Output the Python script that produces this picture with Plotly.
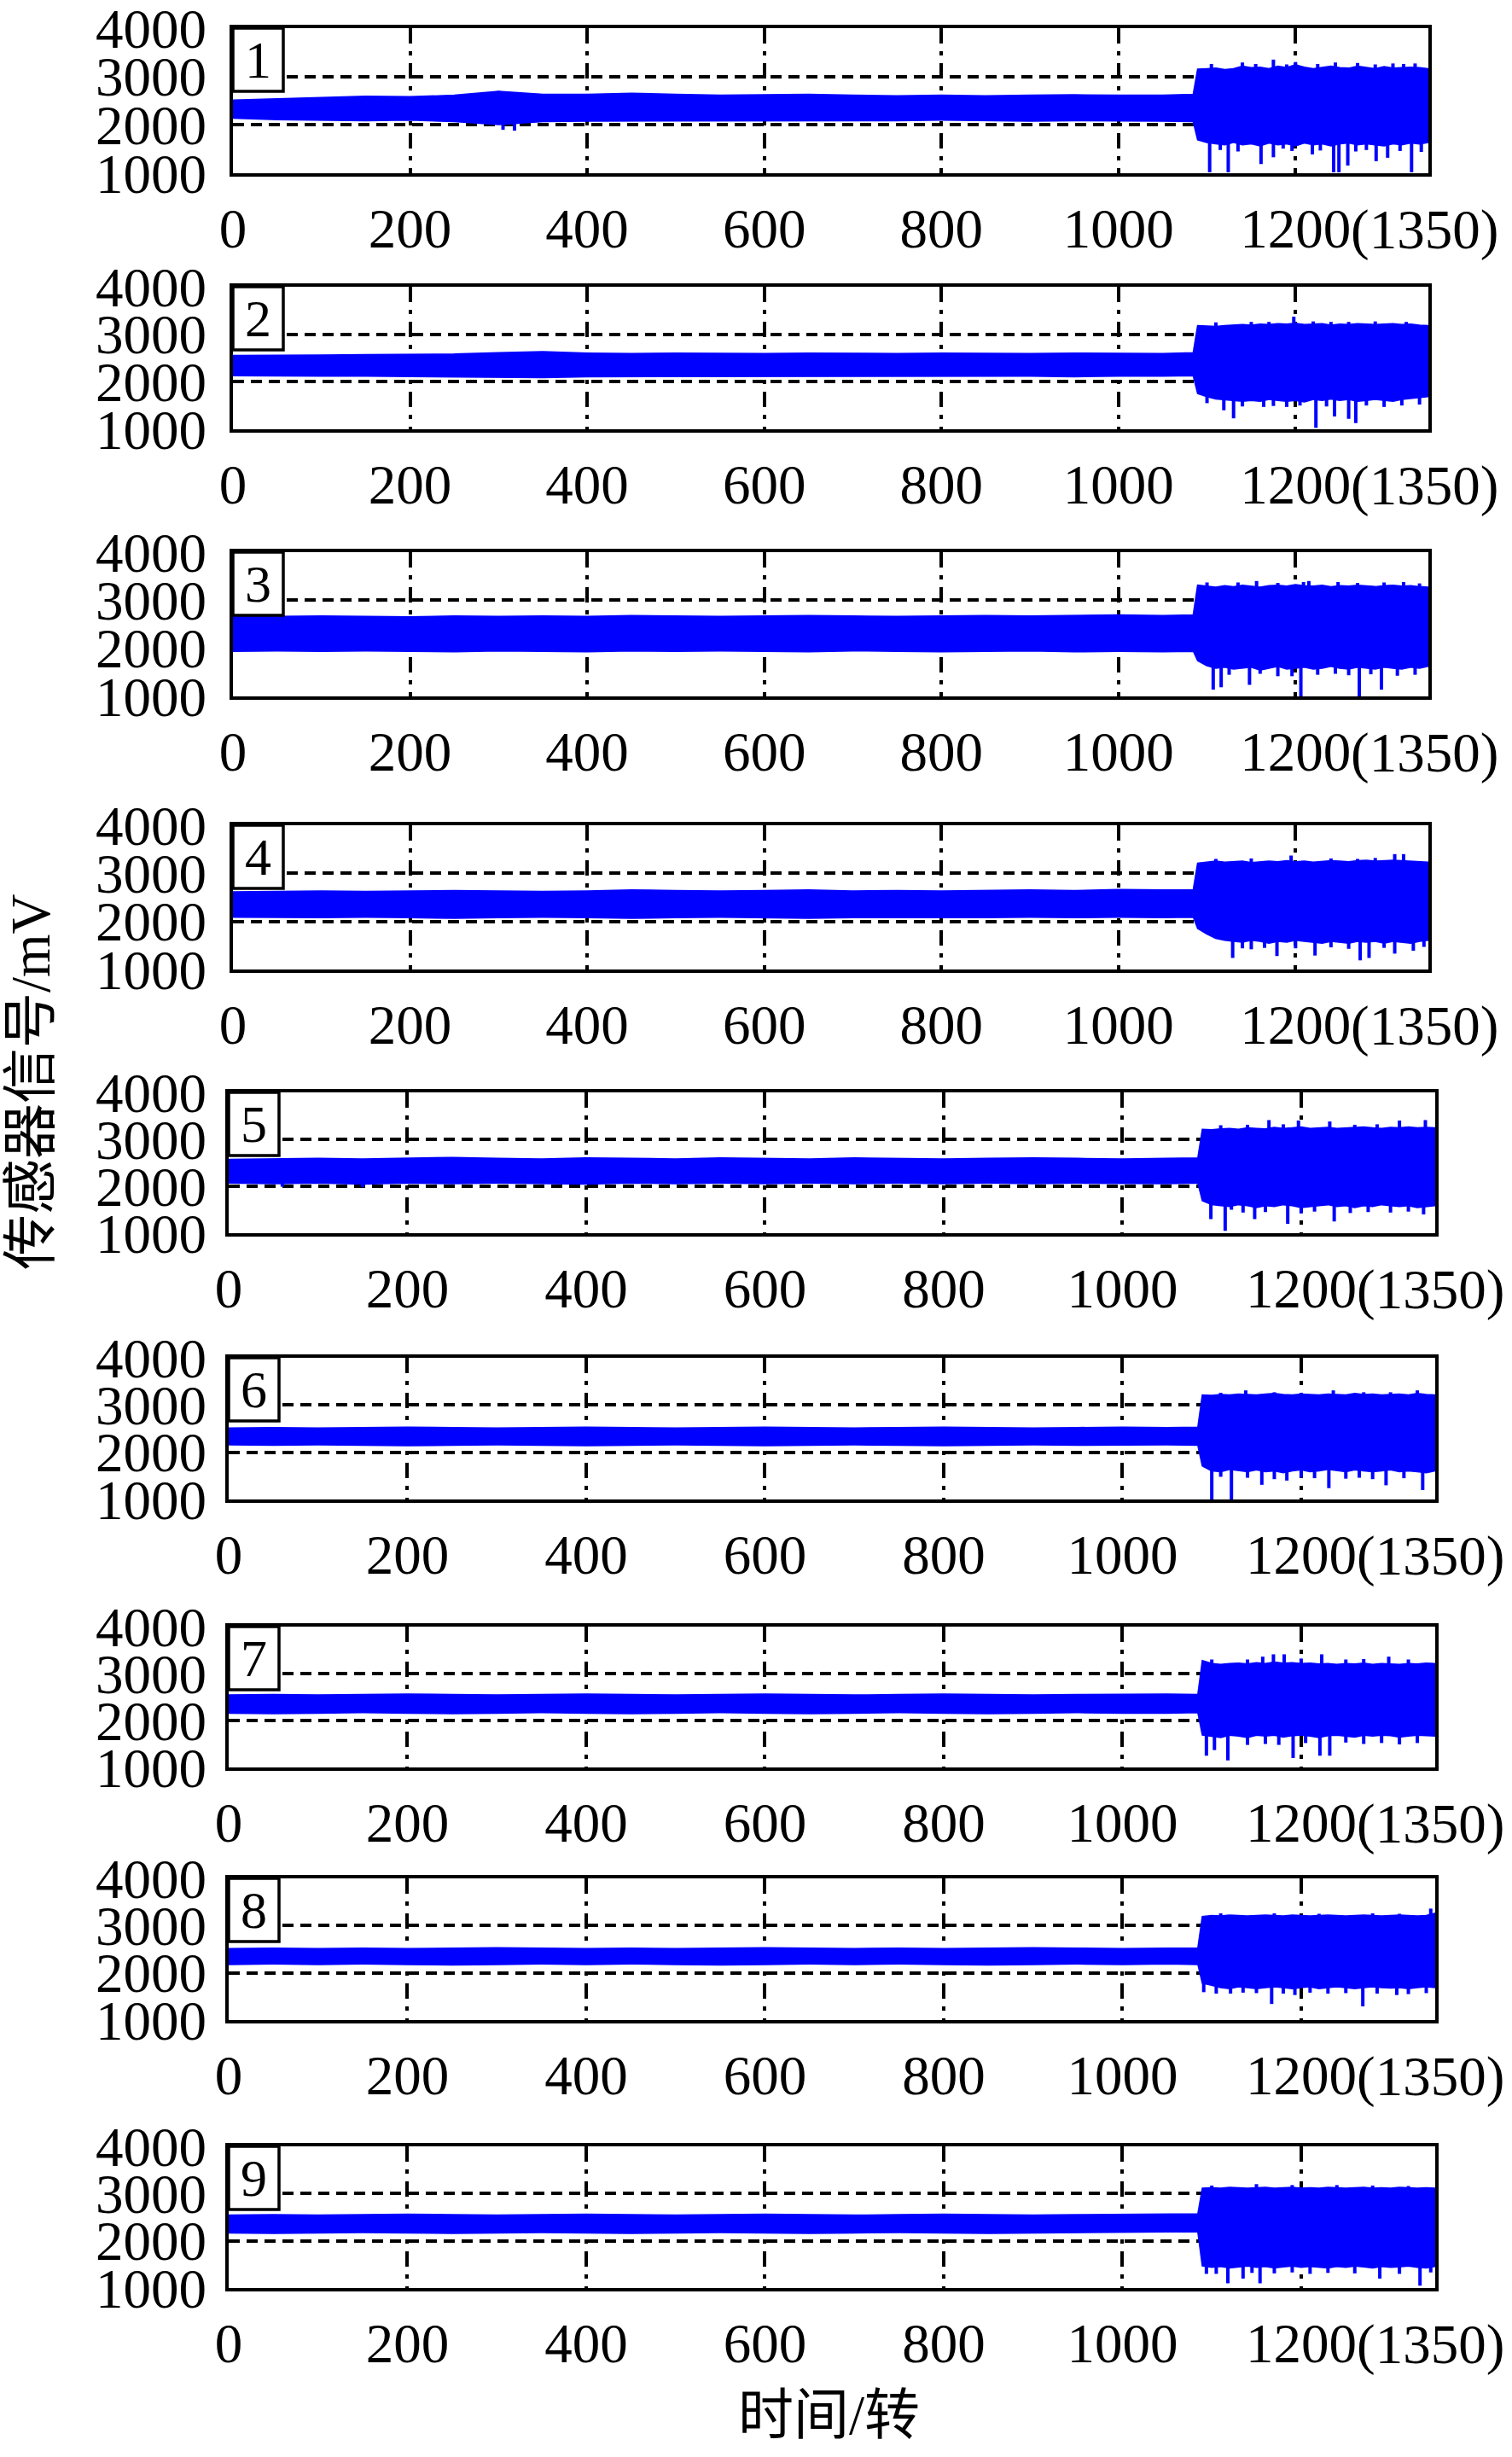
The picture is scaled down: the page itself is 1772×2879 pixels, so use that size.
import plotly.graph_objects as go
from plotly.subplots import make_subplots

# ---------------- data ----------------
rev_healthy = [0, 50, 100, 150, 200, 250, 300, 350, 400, 450, 500, 550, 600, 650,
               700, 750, 800, 850, 900, 950, 1000, 1050, 1085]
rev_fault = [1090, 1100, 1110, 1120, 1130, 1140, 1150, 1160, 1170, 1180, 1190, 1200,
             1210, 1220, 1230, 1240, 1250, 1260, 1270, 1280, 1290, 1300, 1310, 1320,
             1330, 1340, 1350]

x_tick_values = [0, 200, 400, 600, 800, 1000, 1200]
x_tick_labels = ["0", "200", "400", "600", "800", "1000", "1200"]
x_last_suffix = "(1350)"
y_tick_values = [1000, 2000, 3000, 4000]
y_tick_labels = ["1000", "2000", "3000", "4000"]
panel_labels = ["1", "2", "3", "4", "5", "6", "7", "8", "9"]

# healthy-band envelope (upper / lower), mV
hu1 = [2500,2530,2560,2580,2570,2600,2680,2620,2620,2640,2620,2600,2610,2620,2600,2590,2600,2590,2600,2610,2600,2600,2620]
hl1 = [2150,2120,2110,2100,2110,2080,2020,2080,2090,2100,2090,2100,2100,2090,2100,2100,2110,2100,2090,2100,2100,2090,2080]
hu2 = [2540,2540,2550,2560,2560,2570,2600,2620,2590,2580,2590,2580,2580,2590,2580,2580,2590,2580,2580,2590,2590,2580,2600]
hl2 = [2140,2140,2130,2130,2120,2120,2110,2100,2120,2130,2130,2130,2130,2120,2130,2130,2120,2130,2130,2120,2130,2130,2140]
hu3 = [2640,2650,2660,2650,2640,2660,2650,2660,2650,2670,2660,2650,2660,2670,2660,2650,2660,2670,2660,2670,2680,2670,2680]
hl3 = [1950,1960,1950,1960,1950,1940,1960,1950,1940,1960,1950,1960,1950,1940,1960,1950,1940,1950,1960,1940,1950,1940,1950]
hu4 = [2600,2610,2620,2610,2620,2630,2620,2610,2620,2640,2630,2620,2630,2640,2620,2630,2620,2630,2640,2630,2650,2640,2640]
hl4 = [2100,2090,2090,2100,2090,2080,2090,2100,2090,2080,2090,2100,2090,2080,2090,2100,2090,2090,2100,2090,2100,2090,2100]
hu5 = [2560,2570,2580,2570,2580,2600,2580,2570,2590,2580,2570,2590,2580,2570,2590,2580,2570,2580,2590,2580,2570,2580,2590]
hl5 = [2080,2070,2080,2060,2080,2070,2080,2070,2060,2080,2070,2080,2070,2080,2070,2080,2070,2080,2070,2080,2080,2070,2080]
hu6 = [2500,2510,2500,2510,2520,2510,2500,2510,2520,2510,2500,2510,2520,2510,2500,2510,2520,2510,2500,2510,2520,2510,2520]
hl6 = [2170,2160,2170,2160,2150,2160,2170,2160,2150,2160,2170,2160,2150,2160,2170,2160,2150,2160,2170,2160,2160,2170,2160]
hu7 = [2530,2540,2530,2540,2550,2540,2530,2540,2550,2540,2530,2540,2550,2540,2530,2540,2550,2540,2530,2540,2550,2550,2540]
hl7 = [2170,2160,2170,2180,2170,2160,2170,2180,2170,2160,2170,2180,2170,2160,2170,2180,2170,2160,2170,2180,2170,2170,2180]
hu8 = [2500,2510,2500,2510,2500,2510,2520,2510,2500,2510,2500,2510,2520,2510,2500,2510,2500,2510,2520,2510,2500,2510,2510]
hl8 = [2190,2200,2190,2200,2190,2180,2190,2200,2190,2200,2190,2180,2190,2200,2190,2200,2190,2180,2190,2200,2190,2200,2190]
hu9 = [2530,2540,2530,2540,2550,2540,2530,2540,2550,2540,2530,2540,2550,2540,2530,2540,2550,2540,2530,2540,2550,2560,2560]
hl9 = [2180,2170,2180,2190,2180,2170,2180,2190,2180,2170,2180,2190,2180,2170,2180,2190,2180,2170,2180,2190,2190,2200,2200]

# fault-band envelope (upper / lower), mV
fu1 = [3140,3150,3160,3130,3150,3200,3170,3180,3150,3200,3170,3230,3180,3150,3180,3200,3170,3160,3200,3180,3150,3190,3160,3170,3180,3170,3150]
fl1 = [1700,1650,1620,1600,1650,1600,1620,1580,1640,1600,1620,1580,1640,1600,1620,1580,1620,1640,1600,1620,1600,1580,1620,1600,1640,1620,1650]
fu2 = [3170,3160,3150,3170,3180,3190,3180,3200,3190,3210,3200,3220,3190,3200,3210,3180,3200,3190,3210,3200,3190,3200,3210,3190,3200,3180,3170]
fl2 = [1760,1700,1650,1640,1620,1600,1620,1600,1640,1620,1600,1620,1590,1640,1620,1650,1620,1640,1600,1620,1640,1620,1600,1640,1650,1680,1700]
fu3 = [3300,3280,3260,3290,3270,3300,3280,3260,3290,3300,3280,3310,3290,3280,3300,3270,3290,3280,3300,3290,3270,3290,3300,3280,3290,3270,3260]
fl3 = [1750,1650,1600,1620,1580,1600,1620,1560,1600,1640,1580,1600,1620,1580,1600,1640,1600,1580,1620,1600,1580,1620,1600,1580,1620,1600,1640]
fu4 = [3200,3220,3240,3220,3230,3240,3210,3220,3240,3230,3250,3230,3240,3220,3230,3250,3240,3230,3250,3260,3240,3250,3260,3250,3240,3230,3220]
fl4 = [1860,1750,1660,1620,1600,1580,1620,1600,1560,1600,1580,1620,1600,1580,1560,1600,1580,1560,1600,1580,1600,1560,1600,1580,1560,1600,1620]
fu5 = [3200,3190,3210,3220,3200,3230,3220,3210,3240,3220,3230,3250,3220,3230,3240,3220,3230,3240,3250,3230,3220,3240,3230,3250,3230,3240,3230]
fl5 = [1700,1620,1600,1580,1620,1600,1560,1600,1580,1620,1600,1560,1580,1600,1620,1580,1600,1560,1600,1580,1620,1600,1580,1600,1560,1580,1600]
fu6 = [3200,3190,3210,3200,3220,3210,3200,3220,3230,3210,3200,3220,3210,3200,3220,3210,3200,3230,3210,3220,3200,3210,3220,3200,3230,3210,3200]
fl6 = [1720,1620,1600,1650,1620,1600,1640,1600,1620,1580,1620,1640,1600,1620,1650,1620,1600,1640,1620,1600,1620,1640,1600,1620,1600,1580,1620]
fu7 = [3260,3200,3180,3200,3210,3190,3220,3200,3230,3210,3220,3200,3210,3190,3200,3180,3200,3190,3210,3180,3200,3190,3180,3200,3190,3210,3200]
fl7 = [1700,1680,1650,1700,1680,1650,1700,1680,1700,1660,1690,1700,1680,1650,1690,1700,1680,1660,1700,1680,1700,1690,1660,1680,1700,1690,1680]
fu8 = [3180,3200,3190,3210,3200,3190,3200,3210,3200,3190,3210,3200,3190,3200,3210,3200,3190,3200,3210,3200,3190,3200,3210,3200,3190,3200,3250]
fl8 = [1790,1750,1700,1680,1720,1700,1680,1700,1720,1700,1680,1700,1720,1680,1700,1720,1700,1680,1700,1720,1700,1690,1700,1680,1700,1720,1700]
fu9 = [3100,3110,3100,3120,3110,3100,3110,3120,3100,3110,3120,3100,3110,3100,3120,3110,3100,3110,3120,3100,3110,3100,3120,3110,3100,3110,3100]
fl9 = [1480,1450,1470,1440,1460,1480,1450,1470,1440,1460,1480,1450,1470,1460,1440,1470,1450,1480,1460,1440,1470,1450,1460,1480,1450,1440,1470]

# isolated downward spikes (revolution, minimum mV)
sx1 = [305, 318, 1103, 1115, 1124, 1135, 1161, 1175, 1186, 1196, 1219, 1228, 1243, 1249, 1259, 1268, 1280, 1291, 1304, 1318, 1331, 1342]
sy1 = [1900, 1880, 1020, 1480, 1020, 1450, 1190, 1330, 1510, 1460, 1390, 1470, 1020, 1020, 1160, 1450, 1480, 1250, 1320, 1460, 1020, 1440]
sx2 = [1100, 1119, 1130, 1140, 1164, 1175, 1190, 1205, 1223, 1235, 1244, 1260, 1268, 1280, 1300, 1320, 1340]
sy2 = [1550, 1400, 1230, 1480, 1470, 1490, 1470, 1500, 1030, 1480, 1270, 1220, 1130, 1500, 1470, 1500, 1520]
sx3 = [1107, 1116, 1125, 1148, 1160, 1180, 1196, 1206, 1225, 1245, 1260, 1272, 1285, 1297, 1315, 1335]
sy3 = [1140, 1190, 1450, 1240, 1470, 1420, 1420, 1000, 1450, 1470, 1440, 1000, 1460, 1140, 1430, 1450]
sx4 = [1129, 1140, 1150, 1165, 1179, 1200, 1222, 1240, 1260, 1273, 1283, 1300, 1312, 1333, 1345]
sy4 = [1240, 1440, 1420, 1450, 1280, 1440, 1290, 1460, 1430, 1190, 1240, 1450, 1330, 1390, 1470]
sx5 = [60, 150, 1099, 1115, 1122, 1135, 1148, 1160, 1185, 1200, 1215, 1237, 1255, 1275, 1300, 1320, 1337]
sy5 = [1990, 1980, 1300, 1050, 1500, 1440, 1300, 1450, 1200, 1420, 1460, 1250, 1430, 1450, 1440, 1460, 1400]
sx6 = [1100, 1110, 1122, 1140, 1156, 1170, 1184, 1200, 1215, 1231, 1250, 1265, 1280, 1295, 1315, 1336]
sy6 = [1000, 1480, 1000, 1460, 1310, 1430, 1400, 1460, 1450, 1240, 1440, 1460, 1430, 1300, 1450, 1200]
sx7 = [1094, 1103, 1118, 1140, 1160, 1175, 1191, 1205, 1221, 1232, 1250, 1270, 1290, 1310, 1330]
sy7 = [1250, 1370, 1150, 1480, 1500, 1480, 1200, 1520, 1250, 1250, 1530, 1500, 1520, 1490, 1520]
sx8 = [1091, 1105, 1121, 1135, 1150, 1167, 1180, 1193, 1210, 1230, 1250, 1269, 1285, 1307, 1320, 1340]
sy8 = [1590, 1560, 1560, 1580, 1570, 1340, 1560, 1530, 1580, 1560, 1570, 1290, 1560, 1530, 1550, 1570]
sx9 = [1094, 1105, 1118, 1135, 1145, 1154, 1170, 1190, 1210, 1230, 1260, 1288, 1310, 1333, 1345]
sy9 = [1300, 1300, 1100, 1200, 1320, 1100, 1310, 1330, 1300, 1320, 1310, 1200, 1300, 1050, 1330]

# isolated upward peaks (revolution, maximum mV)
px1 = [300, 1105, 1140, 1155, 1175, 1190, 1200, 1225, 1245, 1270, 1290, 1310, 1322, 1335]
py1 = [2700, 3260, 3290, 3260, 3350, 3250, 3300, 3260, 3290, 3280, 3250, 3270, 3260, 3270]
px2 = [1110, 1150, 1170, 1198, 1220, 1240, 1260, 1290, 1325]
py2 = [3250, 3260, 3260, 3370, 3270, 3260, 3260, 3270, 3260]
px3 = [1100, 1135, 1156, 1180, 1209, 1215, 1248, 1270, 1300, 1322, 1340]
py3 = [3370, 3370, 3400, 3360, 3380, 3400, 3380, 3360, 3370, 3380, 3350]
px4 = [1110, 1150, 1195, 1240, 1270, 1290, 1312, 1322]
py4 = [3300, 3310, 3370, 3310, 3300, 3320, 3400, 3400]
px5 = [1110, 1140, 1164, 1180, 1197, 1232, 1260, 1285, 1310, 1339]
py5 = [3300, 3310, 3410, 3320, 3400, 3380, 3310, 3320, 3400, 3410]
px6 = [1110, 1138, 1170, 1200, 1236, 1270, 1300, 1330]
py6 = [3260, 3310, 3270, 3260, 3310, 3270, 3270, 3310]
px7 = [1100, 1140, 1157, 1169, 1181, 1200, 1223, 1250, 1270, 1298, 1320]
py7 = [3300, 3300, 3360, 3410, 3410, 3320, 3410, 3300, 3310, 3360, 3300]
px8 = [1110, 1170, 1220, 1280, 1310, 1345]
py8 = [3260, 3260, 3250, 3260, 3250, 3360]
px9 = [1100, 1150, 1190, 1240, 1280, 1320]
py9 = [3170, 3200, 3180, 3180, 3170, 3160]

healthy_up = [hu1, hu2, hu3, hu4, hu5, hu6, hu7, hu8, hu9]
healthy_lo = [hl1, hl2, hl3, hl4, hl5, hl6, hl7, hl8, hl9]
fault_up = [fu1, fu2, fu3, fu4, fu5, fu6, fu7, fu8, fu9]
fault_lo = [fl1, fl2, fl3, fl4, fl5, fl6, fl7, fl8, fl9]
spike_x = [sx1, sx2, sx3, sx4, sx5, sx6, sx7, sx8, sx9]
spike_y = [sy1, sy2, sy3, sy4, sy5, sy6, sy7, sy8, sy9]
peak_x = [px1, px2, px3, px4, px5, px6, px7, px8, px9]
peak_y = [py1, py2, py3, py4, py5, py6, py7, py8, py9]

# ---------------- layout constants (pixels) ----------------
W, H = 1772, 2879
# (left, right, top, bottom) of each panel's plot area
panel_px = [(273, 1674, 33, 203), (273, 1674, 336, 503), (273, 1674, 647, 816),
            (273, 1674, 967, 1136), (268, 1682, 1280, 1445), (268, 1682, 1591, 1757),
            (268, 1682, 1906, 2071), (268, 1682, 2201, 2367), (268, 1682, 2515, 2681)]
SPIKE_BASE = 2400
BLUE = "#0000ff"
SERIF = "Liberation Serif, Times New Roman, serif"
CJK = "Liberation Serif, Noto Sans CJK SC, serif"
FS = 65
XLAB_DROP = 66   # px from panel bottom to centre of x tick labels

fig = make_subplots(rows=9, cols=1)

for i in range(9):
    r = i + 1
    xs = rev_healthy + rev_fault
    up = healthy_up[i] + fault_up[i]
    lo = healthy_lo[i] + fault_lo[i]
    fig.add_trace(go.Scatter(x=xs + xs[::-1], y=up + lo[::-1], mode="lines",
                             fill="toself", fillcolor=BLUE,
                             line=dict(color=BLUE, width=3),
                             hoverinfo="skip", showlegend=False), row=r, col=1)
    xx, yy = [], []
    for a, b in zip(spike_x[i] + peak_x[i], spike_y[i] + peak_y[i]):
        xx += [a, a, None]
        yy += [SPIKE_BASE, b, None]
    fig.add_trace(go.Scatter(x=xx, y=yy, mode="lines",
                             line=dict(color=BLUE, width=4),
                             hoverinfo="skip", showlegend=False), row=r, col=1)

    L, R, T, B = panel_px[i]
    xd = [L / W, R / W]
    yd = [1 - B / H, 1 - T / H]
    fig.update_xaxes(row=r, col=1, domain=xd, range=[0, 1350],
                     tickmode="array", tickvals=x_tick_values, ticktext=x_tick_labels,
                     tickangle=0, automargin=False, ticklabeloverflow="allow",
                     showgrid=True, gridcolor="black", gridwidth=3.5,
                     griddash="18px,9px,5px,9px",
                     showline=True, linecolor="black", linewidth=4, mirror=True,
                     ticks="", zeroline=False, ticklabelstandoff=5,
                     tickfont=dict(family=SERIF, size=FS, color="black"))
    fig.update_yaxes(row=r, col=1, domain=yd, range=[1000, 4000],
                     tickmode="array", tickvals=y_tick_values, ticktext=y_tick_labels,
                     automargin=False, ticklabeloverflow="allow",
                     showgrid=True, gridcolor="black", gridwidth=3.5,
                     griddash="13px,8px",
                     showline=True, linecolor="black", linewidth=4, mirror=True,
                     ticks="", zeroline=False,
                     ticklabelstandoff=(L - 259),
                     tickfont=dict(family=SERIF, size=FS, color="black"))

    axn = "" if r == 1 else str(r)
    # "(1350)" suffix written right after the last tick label "1200"
    fig.add_annotation(xref=f"x{axn}", yref=f"y{axn} domain",
                       x=x_tick_values[-1], y=0, xshift=64, yshift=-XLAB_DROP,
                       text=x_last_suffix, showarrow=False,
                       xanchor="left", yanchor="middle", borderpad=0,
                       font=dict(family=SERIF, size=FS, color="black"))

    bw = 59 / (R - L)
    bh = 74 / (B - T)
    fig.add_shape(type="rect", xref=f"x{axn} domain", yref=f"y{axn} domain",
                  x0=0, x1=bw, y0=1 - bh, y1=1,
                  line=dict(color="black", width=3.5), fillcolor="white", layer="above")
    fig.add_annotation(xref=f"x{axn} domain", yref=f"y{axn} domain",
                       x=bw / 2, y=1 - bh / 2, text=panel_labels[i], showarrow=False,
                       xanchor="center", yanchor="middle",
                       font=dict(family=SERIF, size=62, color="black"))

fig.add_annotation(xref="paper", yref="paper", x=36 / W, y=1 - 1268 / H,
                   text="传感器信号/mV", textangle=-90, showarrow=False,
                   xanchor="center", yanchor="middle",
                   font=dict(family=CJK, size=FS, color="black"))
fig.add_annotation(xref="paper", yref="paper", x=971 / W, y=1 - 2830 / H,
                   text="时间/转", showarrow=False,
                   xanchor="center", yanchor="middle",
                   font=dict(family=CJK, size=FS, color="black"))

fig.update_layout(width=W, height=H, margin=dict(l=0, r=0, t=0, b=0),
                  paper_bgcolor="white", plot_bgcolor="white", showlegend=False)

fig.write_html("out.html", config={"displayModeBar": False},
               post_script="document.body.style.margin='0px';")
